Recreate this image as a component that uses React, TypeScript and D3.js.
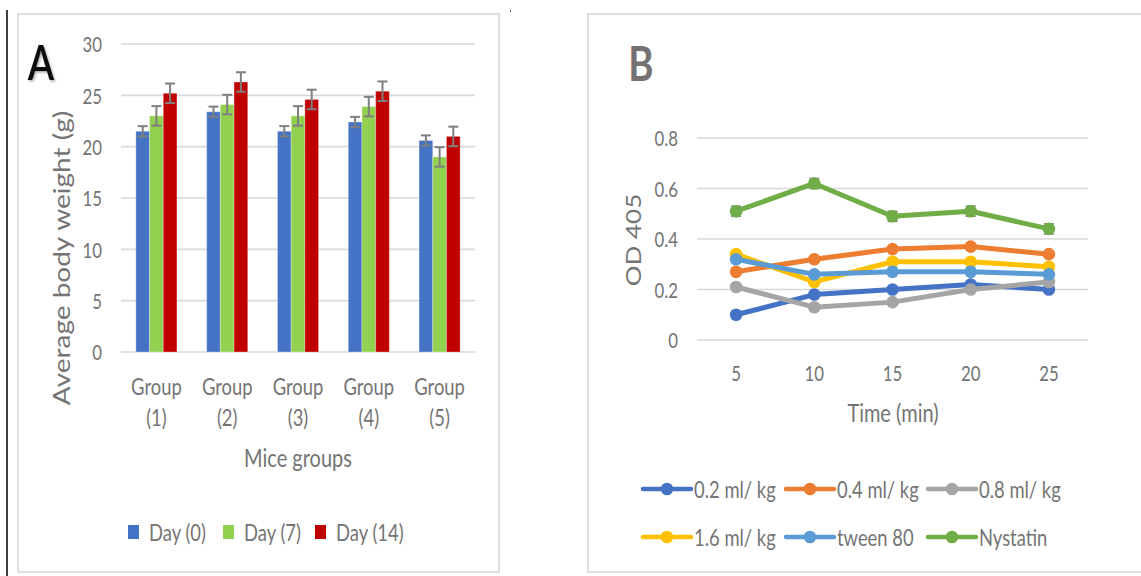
import React from "react";
import * as d3 from "d3";

// ---------- Data: panel A ----------
const groups = ["Group (1)", "Group (2)", "Group (3)", "Group (4)", "Group (5)"];
const groupLine1 = ["Group", "Group", "Group", "Group", "Group"];
const groupLine2 = ["(1)", "(2)", "(3)", "(4)", "(5)"];
const daySeries = ["Day (0)", "Day (7)", "Day (14)"];
const day0 = [21.5, 23.4, 21.5, 22.4, 20.6];
const day7 = [23.0, 24.1, 23.0, 23.9, 19.0];
const day14 = [25.2, 26.3, 24.6, 25.4, 21.0];
const day0Err = [0.5, 0.5, 0.5, 0.5, 0.5];
const day7Err = [0.95, 0.95, 0.95, 0.95, 0.95];
const day14Err = [0.95, 0.95, 0.95, 0.95, 0.95];
const yTicksA = [0, 5, 10, 15, 20, 25, 30];

// ---------- Data: panel B ----------
const times = [5, 10, 15, 20, 25];
const doseSeries = ["0.2 ml/ kg", "0.4 ml/ kg", "0.8 ml/ kg", "1.6 ml/ kg", "tween 80", "Nystatin"];
const s02 = [0.1, 0.18, 0.2, 0.22, 0.2];
const s04 = [0.27, 0.32, 0.36, 0.37, 0.34];
const s08 = [0.21, 0.13, 0.15, 0.2, 0.23];
const s16 = [0.34, 0.23, 0.31, 0.31, 0.29];
const tween = [0.32, 0.26, 0.27, 0.27, 0.26];
const nystatin = [0.51, 0.62, 0.49, 0.51, 0.44];
const nystatinErr = [0.02, 0.02, 0.02, 0.02, 0.02];
const yTicksB = [0, 0.2, 0.4, 0.6, 0.8];
const yTickLabelsB = ["0", "0.2", "0.4", "0.6", "0.8"];

const barColors = ["#4472C4", "#92D050", "#C00000"];
const lineColors = ["#4472C4", "#ED7D31", "#A5A5A5", "#FFC000", "#5B9BD5", "#70AD47"];

const FONT = "Lato, 'Open Sans', sans-serif";
const TXT = "#747474";
const GRID = "#d9d9d9";
const SX = 0.8;

type TProps = {
  x: number;
  y: number;
  size: number;
  anchor?: "start" | "middle" | "end";
  fill?: string;
  weight?: number | string;
  rotate?: boolean;
  filter?: string;
  children: React.ReactNode;
};

function T({ x, y, size, anchor = "middle", fill = TXT, weight = 400, rotate = false, filter, children }: TProps) {
  const tr = rotate
    ? `translate(${x},${y}) rotate(-90) scale(1,${SX})`
    : `translate(${x},${y}) scale(${SX},1)`;
  return (
    <text
      transform={tr}
      textAnchor={anchor}
      dominantBaseline="central"
      fontFamily={FONT}
      fontSize={size}
      fontWeight={weight}
      fill={fill}
      filter={filter}
    >
      {children}
    </text>
  );
}

function PanelA() {
  const x0 = d3.scaleBand<string>().domain(groups).range([121, 475]).paddingInner(0.42).paddingOuter(0.21);
  const x1 = d3.scaleBand<string>().domain(daySeries).range([0, x0.bandwidth()]);
  const y = d3.scaleLinear().domain([0, 30]).range([352, 44]);
  const vals = [day0, day7, day14];
  const errs = [day0Err, day7Err, day14Err];
  const [gx0, gx1] = x0.range();
  const legendX = [128, 223, 315];
  return (
    <g>
      <rect x={18} y={14} width={481} height={558} fill="#fff" stroke="#dedede" strokeWidth={2} />
      {yTicksA.map((t) => (
        <g key={t}>
          <line x1={gx0} x2={gx1} y1={y(t)} y2={y(t)} stroke={GRID} strokeWidth={1.6} />
          <T x={102} y={y(t)} size={21} anchor="end">{t}</T>
        </g>
      ))}
      {groups.map((g, gi) =>
        daySeries.map((s, si) => {
          const bx = (x0(g) ?? 0) + (x1(s) ?? 0);
          const bw = x1.bandwidth();
          const v = vals[si][gi];
          const e = errs[si][gi];
          const cx = bx + bw / 2;
          return (
            <g key={g + s}>
              <rect x={bx} y={y(v)} width={bw} height={y(0) - y(v)} fill={barColors[si]} stroke="rgba(255,255,255,0.3)" strokeWidth={1} />
              <line x1={cx} x2={cx} y1={y(v + e)} y2={y(v - e)} stroke="#7f7f7f" strokeWidth={2} />
              <line x1={cx - 5} x2={cx + 5} y1={y(v + e)} y2={y(v + e)} stroke="#7f7f7f" strokeWidth={2} />
              <line x1={cx - 5} x2={cx + 5} y1={y(v - e)} y2={y(v - e)} stroke="#7f7f7f" strokeWidth={2} />
            </g>
          );
        })
      )}
      {groups.map((g, gi) => {
        const cx = (x0(g) ?? 0) + x0.bandwidth() / 2;
        return (
          <g key={g}>
            <T x={cx} y={386} size={23}>{groupLine1[gi]}</T>
            <T x={cx} y={417} size={23}>{groupLine2[gi]}</T>
          </g>
        );
      })}
      <T x={298} y={458} size={25}>Mice groups</T>
      <T x={61} y={258} size={28} rotate>Average body weight (g)</T>
      {daySeries.map((s, si) => (
        <g key={s}>
          <rect x={legendX[si]} y={525} width={11} height={14} fill={barColors[si]} />
          <T x={legendX[si] + 21} y={532} size={23} anchor="start">{s}</T>
        </g>
      ))}
      <T x={41} y={61} size={48} fill="#111" weight={600} filter="url(#shadow)">A</T>
    </g>
  );
}

function PanelB() {
  const x = d3.scalePoint<number>().domain(times).range([697, 1088]).padding(0.5);
  const y = d3.scaleLinear().domain([0, 0.8]).range([340, 138]);
  const series = [s02, s04, s08, s16, tween, nystatin];
  const line = d3
    .line<number>()
    .x((_, i) => x(times[i]) ?? 0)
    .y((d) => y(d));
  const legendCols = [643, 786, 928];
  const legendRows = [489, 537];
  return (
    <g>
      <rect x={588} y={14} width={560} height={558} fill="#fff" stroke="#dedede" strokeWidth={2} />
      {yTicksB.map((t, i) => (
        <g key={t}>
          <line x1={697} x2={1088} y1={y(t)} y2={y(t)} stroke={GRID} strokeWidth={1.6} />
          <T x={678} y={y(t)} size={21} anchor="end">{yTickLabelsB[i]}</T>
        </g>
      ))}
      {times.map((t) => (
        <T key={t} x={x(t) ?? 0} y={373} size={21}>{t}</T>
      ))}
      <T x={893} y={413} size={25}>Time (min)</T>
      <T x={633} y={240} size={26} rotate>OD 405</T>
      {series.map((s, si) => (
        <g key={doseSeries[si]}>
          <path d={line(s) ?? ""} fill="none" stroke={lineColors[si]} strokeWidth={5} strokeLinejoin="round" strokeLinecap="round" />
          {si === 5 &&
            s.map((v, i) => {
              const cx = x(times[i]) ?? 0;
              const e = nystatinErr[i];
              return (
                <g key={i}>
                  <line x1={cx} x2={cx} y1={y(v + e)} y2={y(v - e)} stroke="#7f7f7f" strokeWidth={1.5} />
                  <line x1={cx - 5} x2={cx + 5} y1={y(v + e)} y2={y(v + e)} stroke="#7f7f7f" strokeWidth={1.5} />
                  <line x1={cx - 5} x2={cx + 5} y1={y(v - e)} y2={y(v - e)} stroke="#7f7f7f" strokeWidth={1.5} />
                </g>
              );
            })}
          {s.map((v, i) => (
            <circle key={i} cx={x(times[i]) ?? 0} cy={y(v)} r={6.3} fill={lineColors[si]} />
          ))}
        </g>
      ))}
      {doseSeries.map((s, si) => {
        const lx = legendCols[si % 3];
        const ly = legendRows[Math.floor(si / 3)];
        return (
          <g key={s}>
            <line x1={lx} x2={lx + 48} y1={ly} y2={ly} stroke={lineColors[si]} strokeWidth={4.5} strokeLinecap="round" />
            <circle cx={lx + 24} cy={ly} r={6.3} fill={lineColors[si]} />
            <T x={lx + 51} y={ly} size={23} anchor="start">{s}</T>
          </g>
        );
      })}
      <T x={641} y={62} size={48} fill="#767171" weight={700}>B</T>
    </g>
  );
}

export default function App() {
  return (
    <svg
      width={1141}
      height={576}
      viewBox="0 0 1141 576"
      style={{ position: "fixed", left: 0, top: 0, background: "#fff" }}
    >
      <defs>
        <filter id="shadow" x="-30%" y="-30%" width="160%" height="160%">
          <feDropShadow dx={1.5} dy={1.5} stdDeviation={1.2} floodColor="#000" floodOpacity={0.35} />
        </filter>
      </defs>
      <rect x={0} y={0} width={1141} height={576} fill="#fff" />
      <line x1={7} x2={7} y1={10} y2={576} stroke="#000" strokeWidth={1.5} />
      <rect x={510} y={10} width={1} height={2} fill="#555" />
      <PanelA />
      <PanelB />
    </svg>
  );
}
